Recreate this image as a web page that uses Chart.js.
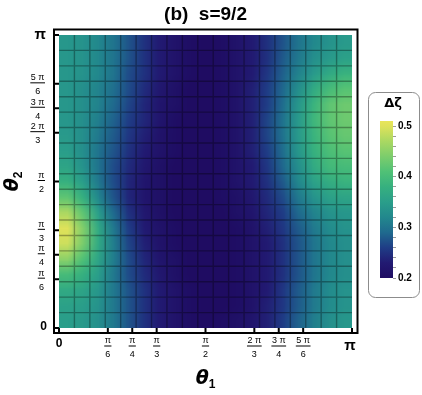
<!DOCTYPE html>
<html>
<head>
<meta charset="utf-8">
<script src="https://cdn.jsdelivr.net/npm/chart.js@4.4.1/dist/chart.umd.min.js"></script>
<style>
  html, body { margin: 0; padding: 0; background: #fff; }
  #wrap { position: relative; width: 422px; height: 395px; }
  #main { position: absolute; left: 0; top: 0; }
  #bar { position: absolute; left: 366px; top: 90px; }
</style>
</head>
<body>
<div id="wrap">
  <canvas id="main" width="422" height="395"></canvas>
  <canvas id="bar" width="56" height="212"></canvas>
</div>
<script>
const PI = Math.PI;
const titleText = '(b)  s=9/2';

// tick positions and fraction labels (same on both axes)
const tickVals = [0, PI / 6, PI / 4, PI / 3, PI / 2, 2 * PI / 3, 3 * PI / 4, 5 * PI / 6, PI];
const tickNum = ['0', 'π', 'π', 'π', 'π', '2 π', '3 π', '5 π', 'π'];
const tickDen = ['', '6', '4', '3', '2', '3', '4', '6', ''];

// 19 x 19 mesh cells on [0, π] x [0, π]
const nCells = 19;

// Δζ per cell: rows from θ2 = π (top) down to θ2 = 0, columns θ1 = 0 -> π
const dzeta = [
  [0.34, 0.335, 0.32, 0.30, 0.275, 0.25, 0.23, 0.215, 0.205, 0.20, 0.205, 0.215, 0.23, 0.25, 0.275, 0.30, 0.32, 0.335, 0.345],
  [0.34, 0.335, 0.32, 0.30, 0.275, 0.25, 0.23, 0.215, 0.205, 0.20, 0.205, 0.215, 0.23, 0.25, 0.28, 0.305, 0.33, 0.345, 0.355],
  [0.34, 0.335, 0.32, 0.30, 0.27, 0.25, 0.23, 0.215, 0.205, 0.20, 0.205, 0.215, 0.23, 0.255, 0.285, 0.315, 0.345, 0.37, 0.385],
  [0.34, 0.33, 0.315, 0.295, 0.27, 0.245, 0.225, 0.21, 0.20, 0.20, 0.205, 0.215, 0.235, 0.26, 0.29, 0.33, 0.37, 0.40, 0.415],
  [0.34, 0.33, 0.315, 0.29, 0.265, 0.24, 0.22, 0.21, 0.20, 0.20, 0.205, 0.215, 0.235, 0.26, 0.295, 0.34, 0.385, 0.42, 0.43],
  [0.34, 0.33, 0.31, 0.285, 0.26, 0.24, 0.22, 0.205, 0.20, 0.20, 0.205, 0.215, 0.235, 0.265, 0.30, 0.345, 0.39, 0.42, 0.43],
  [0.345, 0.33, 0.305, 0.28, 0.255, 0.235, 0.215, 0.205, 0.20, 0.20, 0.205, 0.215, 0.235, 0.265, 0.30, 0.345, 0.385, 0.415, 0.425],
  [0.35, 0.33, 0.30, 0.275, 0.25, 0.23, 0.215, 0.205, 0.20, 0.20, 0.205, 0.215, 0.235, 0.26, 0.295, 0.34, 0.38, 0.405, 0.415],
  [0.36, 0.335, 0.30, 0.27, 0.245, 0.225, 0.21, 0.20, 0.20, 0.20, 0.205, 0.215, 0.23, 0.255, 0.29, 0.33, 0.37, 0.395, 0.40],
  [0.38, 0.35, 0.305, 0.27, 0.24, 0.22, 0.21, 0.20, 0.20, 0.20, 0.205, 0.215, 0.23, 0.25, 0.28, 0.32, 0.355, 0.375, 0.385],
  [0.42, 0.38, 0.32, 0.275, 0.24, 0.22, 0.21, 0.20, 0.20, 0.20, 0.205, 0.21, 0.225, 0.245, 0.27, 0.305, 0.335, 0.355, 0.36],
  [0.47, 0.42, 0.35, 0.29, 0.25, 0.225, 0.21, 0.20, 0.20, 0.20, 0.20, 0.21, 0.22, 0.24, 0.26, 0.29, 0.315, 0.335, 0.34],
  [0.50, 0.445, 0.37, 0.305, 0.26, 0.23, 0.215, 0.205, 0.20, 0.20, 0.20, 0.205, 0.215, 0.235, 0.255, 0.28, 0.305, 0.325, 0.335],
  [0.49, 0.44, 0.37, 0.31, 0.265, 0.235, 0.215, 0.205, 0.20, 0.20, 0.20, 0.205, 0.215, 0.23, 0.25, 0.275, 0.30, 0.32, 0.33],
  [0.45, 0.41, 0.36, 0.31, 0.27, 0.24, 0.22, 0.21, 0.20, 0.20, 0.20, 0.205, 0.215, 0.23, 0.25, 0.275, 0.30, 0.32, 0.33],
  [0.40, 0.38, 0.35, 0.305, 0.27, 0.245, 0.225, 0.21, 0.20, 0.20, 0.20, 0.205, 0.215, 0.23, 0.25, 0.275, 0.30, 0.32, 0.33],
  [0.37, 0.36, 0.34, 0.305, 0.275, 0.25, 0.23, 0.215, 0.205, 0.20, 0.20, 0.205, 0.215, 0.23, 0.255, 0.28, 0.305, 0.325, 0.335],
  [0.355, 0.35, 0.335, 0.305, 0.275, 0.25, 0.23, 0.215, 0.205, 0.20, 0.20, 0.205, 0.215, 0.235, 0.255, 0.28, 0.305, 0.325, 0.335],
  [0.35, 0.345, 0.33, 0.305, 0.275, 0.25, 0.23, 0.215, 0.205, 0.20, 0.205, 0.21, 0.22, 0.235, 0.26, 0.285, 0.31, 0.33, 0.34]
];

// colour bar
const cbMin = 0.2;
const cbMax = 0.51;
const cbTicks = [0.2, 0.22, 0.24, 0.26, 0.28, 0.3, 0.32, 0.34, 0.36, 0.38, 0.4, 0.42, 0.44, 0.46, 0.48, 0.5];
const cbLabels = ['0.2', '', '', '', '', '0.3', '', '', '', '', '0.4', '', '', '', '', '0.5'];

// colour map stops
const cmapVals = [0.20, 0.23, 0.26, 0.29, 0.32, 0.35, 0.38, 0.41, 0.44, 0.47, 0.50, 0.52];
const cmapCols = ['#1f0c62', '#221a72', '#1f3d86', '#1f6a8e', '#22888d', '#2a9e8a', '#36b07f', '#50c176', '#7ccd6c', '#aad862', '#dfe25a', '#f0e85a'];

const FONT = '"Liberation Sans", Arial, sans-serif';
const MATH = '"DejaVu Sans", sans-serif';

function hexRgb(h) {
  return [parseInt(h.slice(1, 3), 16), parseInt(h.slice(3, 5), 16), parseInt(h.slice(5, 7), 16)];
}

function colorFor(v) {
  if (v <= cmapVals[0]) return hexRgb(cmapCols[0]);
  for (let i = 1; i < cmapVals.length; i++) {
    if (v <= cmapVals[i]) {
      const t = (v - cmapVals[i - 1]) / (cmapVals[i] - cmapVals[i - 1]);
      const a = hexRgb(cmapCols[i - 1]), b = hexRgb(cmapCols[i]);
      return a.map((c, k) => Math.round(c + (b[k] - c) * t));
    }
  }
  return hexRgb(cmapCols[cmapCols.length - 1]);
}

const cellEdges = [];
for (let k = 0; k <= nCells; k++) cellEdges.push(k * PI / nCells);

// cell centres as scatter points (not drawn as points, used by the heat plugin)
const cellPoints = [];
dzeta.forEach((row, i) => row.forEach((v, j) => {
  cellPoints.push({
    x: (cellEdges[j] + cellEdges[j + 1]) / 2,
    y: (cellEdges[nCells - i - 1] + cellEdges[nCells - i]) / 2,
    v: v
  });
}));

// fraction label: either centred at cx, or right-aligned to rx; bar at barY
function drawFrac(ctx, num, den, cx, rx, barY) {
  ctx.font = '9px ' + FONT;
  const w = Math.max(ctx.measureText(num).width, ctx.measureText(den).width) + 1;
  const c = cx !== null ? cx : rx - w / 2;
  ctx.textAlign = 'center';
  ctx.fillText(num, c, barY - 5);
  ctx.fillText(den, c, barY + 9);
  ctx.fillRect(c - w / 2, barY - 0.5, w, 1);
}

// θ with a subscript, centred at (cx, cy), optionally rotated
function drawTheta(ctx, sub, cx, cy, rot) {
  ctx.save();
  ctx.translate(cx, cy);
  ctx.rotate(rot);
  ctx.textBaseline = 'middle';
  ctx.textAlign = 'left';
  ctx.font = 'bold italic 19px ' + MATH;
  const wt = ctx.measureText('θ').width;
  ctx.font = 'bold 12px ' + FONT;
  const ws = ctx.measureText(sub).width;
  const x0 = -(wt + ws) / 2;
  ctx.font = 'bold italic 19px ' + MATH;
  ctx.fillText('θ', x0, -2);
  ctx.font = 'bold 12px ' + FONT;
  ctx.fillText(sub, x0 + wt, 4);
  ctx.restore();
}

const heatPlugin = {
  id: 'heat',
  beforeDatasetsDraw(chart) {
    const { ctx, scales: { x, y } } = chart;
    const off = document.createElement('canvas');
    off.width = nCells;
    off.height = nCells;
    const octx = off.getContext('2d');
    const img = octx.createImageData(nCells, nCells);
    dzeta.forEach((row, i) => row.forEach((v, j) => {
      const c = colorFor(v);
      const k = (i * nCells + j) * 4;
      img.data[k] = c[0];
      img.data[k + 1] = c[1];
      img.data[k + 2] = c[2];
      img.data[k + 3] = 255;
    }));
    octx.putImageData(img, 0, 0);

    const left = x.getPixelForValue(cellEdges[0]);
    const right = x.getPixelForValue(cellEdges[nCells]);
    const top = y.getPixelForValue(cellEdges[nCells]);
    const bottom = y.getPixelForValue(cellEdges[0]);

    ctx.save();
    ctx.imageSmoothingEnabled = true;
    ctx.drawImage(off, left, top, right - left, bottom - top);

    // mesh lines
    ctx.strokeStyle = 'rgba(0,0,0,0.32)';
    ctx.lineWidth = 1.4;
    ctx.beginPath();
    for (let k = 1; k < nCells; k++) {
      const px = x.getPixelForValue(cellEdges[k]);
      ctx.moveTo(px, top);
      ctx.lineTo(px, bottom);
      const py = y.getPixelForValue(cellEdges[k]);
      ctx.moveTo(left, py);
      ctx.lineTo(right, py);
    }
    ctx.stroke();
    ctx.restore();
  },
  afterDraw(chart) {
    const { ctx, chartArea: ca, scales: { x, y } } = chart;
    const fL = ca.left - 5, fR = ca.right + 5.5, fT = ca.top - 5.5, fB = ca.bottom + 5;
    ctx.save();

    // frame
    ctx.strokeStyle = '#000';
    ctx.lineWidth = 2;
    ctx.strokeRect(fL, fT, fR - fL, fB - fT);

    // inward ticks
    ctx.beginPath();
    tickVals.forEach(v => {
      const py = y.getPixelForValue(v);
      ctx.moveTo(fL, py);
      ctx.lineTo(ca.left, py);
      const px = x.getPixelForValue(v);
      ctx.moveTo(px, fB);
      ctx.lineTo(px, ca.bottom);
    });
    ctx.stroke();

    ctx.fillStyle = '#000';
    ctx.textBaseline = 'middle';

    // y tick labels
    tickVals.forEach((v, i) => {
      const py = y.getPixelForValue(v);
      if (!tickDen[i]) {
        ctx.textAlign = 'right';
        if (tickNum[i] === 'π') {
          ctx.font = 'bold 15px ' + FONT;
          ctx.fillText(tickNum[i], 46, py);
        } else {
          ctx.font = 'bold 12px ' + FONT;
          ctx.fillText(tickNum[i], 47, py - 1);
        }
        return;
      }
      drawFrac(ctx, tickNum[i], tickDen[i], null, 45, py - 1);
    });

    // x tick labels
    tickVals.forEach((v, i) => {
      const px = x.getPixelForValue(v);
      if (!tickDen[i]) {
        ctx.textAlign = 'center';
        if (tickNum[i] === 'π') {
          ctx.font = 'bold 15px ' + FONT;
          ctx.fillText(tickNum[i], px - 2, 346);
        } else {
          ctx.font = 'bold 12px ' + FONT;
          ctx.fillText(tickNum[i], px, 344);
        }
        return;
      }
      drawFrac(ctx, tickNum[i], tickDen[i], px, null, 346);
    });

    // axis titles
    drawTheta(ctx, '1', (ca.left + ca.right) / 2, 381, 0);
    drawTheta(ctx, '2', 15, (ca.top + ca.bottom) / 2, -PI / 2);

    // title
    ctx.font = 'bold 19px ' + FONT;
    ctx.textAlign = 'center';
    ctx.textBaseline = 'middle';
    ctx.fillText(titleText, (ca.left + ca.right) / 2, 15);
    ctx.restore();
  }
};

Chart.defaults.font.family = FONT;

new Chart(document.getElementById('main'), {
  type: 'scatter',
  data: {
    datasets: [{ data: cellPoints, pointRadius: 0, pointHoverRadius: 0 }]
  },
  options: {
    responsive: false,
    animation: false,
    devicePixelRatio: 1,
    layout: { padding: { left: 0, top: 35, right: 70, bottom: 0 } },
    plugins: { legend: { display: false }, tooltip: { enabled: false } },
    scales: {
      x: {
        type: 'linear', position: 'bottom', min: 0, max: PI,
        grid: { display: false, drawTicks: false },
        border: { display: false },
        ticks: { display: false },
        afterFit: s => { s.height = 67; }
      },
      y: {
        type: 'linear', position: 'left', min: 0, max: PI,
        grid: { display: false, drawTicks: false },
        border: { display: false },
        ticks: { display: false },
        afterFit: s => { s.width = 59; }
      }
    }
  },
  plugins: [heatPlugin]
});

// colour bar legend
const barPlugin = {
  id: 'cbar',
  beforeDraw(chart) {
    const { ctx } = chart;
    ctx.save();
    ctx.strokeStyle = '#8c8c8c';
    ctx.lineWidth = 1;
    ctx.beginPath();
    ctx.roundRect(2.5, 2.5, 51, 205, 7);
    ctx.stroke();
    ctx.fillStyle = '#000';
    ctx.font = 'bold 13px ' + MATH;
    ctx.textAlign = 'center';
    ctx.textBaseline = 'middle';
    ctx.fillText('Δζ', 27, 14);
    ctx.restore();
  },
  beforeDatasetsDraw(chart) {
    const { ctx, chartArea: ca, scales: { y } } = chart;
    const g = ctx.createLinearGradient(0, y.getPixelForValue(cbMin), 0, y.getPixelForValue(cbMax));
    cmapVals.forEach((v, i) => {
      const t = (v - cbMin) / (cbMax - cbMin);
      if (t >= 0 && t <= 1) g.addColorStop(t, cmapCols[i]);
    });
    g.addColorStop(1, 'rgb(' + colorFor(cbMax).join(',') + ')');
    ctx.save();
    ctx.fillStyle = g;
    ctx.fillRect(ca.left, ca.top, ca.right - ca.left, ca.bottom - ca.top);
    ctx.restore();
  }
};

new Chart(document.getElementById('bar'), {
  type: 'scatter',
  data: { datasets: [{ data: [], pointRadius: 0 }] },
  options: {
    responsive: false,
    animation: false,
    devicePixelRatio: 1,
    layout: { padding: { left: 14, top: 31, right: 0, bottom: 24 } },
    plugins: { legend: { display: false }, tooltip: { enabled: false } },
    scales: {
      x: { display: false },
      y: {
        type: 'linear', position: 'right', min: cbMin, max: cbMax,
        afterBuildTicks: s => { s.ticks = cbTicks.map(v => ({ value: v })); },
        grid: { drawOnChartArea: false, drawTicks: true, tickLength: 3, color: '#9a9a9a', lineWidth: 1 },
        border: { display: false },
        ticks: {
          padding: 2, color: '#000', autoSkip: false,
          font: { size: 10, weight: 'bold' },
          callback: (v, i) => cbLabels[i]
        },
        afterFit: s => { s.width = 29; }
      }
    }
  },
  plugins: [barPlugin]
});
</script>
</body>
</html>
